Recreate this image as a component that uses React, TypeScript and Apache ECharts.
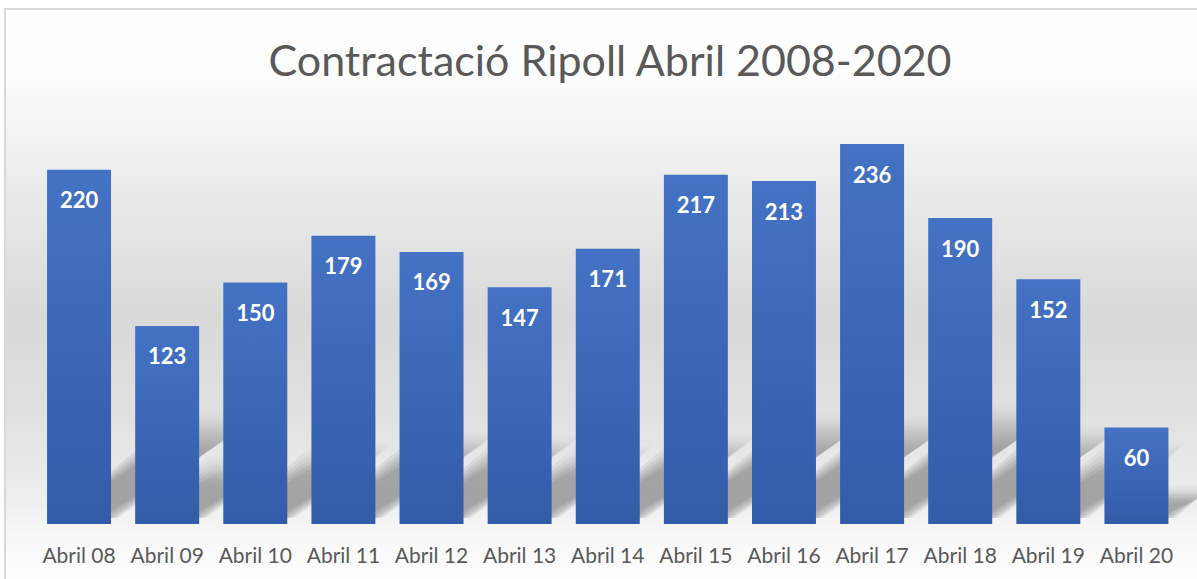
import React, { useEffect, useRef } from "react";
import * as echarts from "echarts";

const titleText = "Contractació Ripoll Abril 2008-2020";
const categories = [
  "Abril 08", "Abril 09", "Abril 10", "Abril 11", "Abril 12", "Abril 13", "Abril 14",
  "Abril 15", "Abril 16", "Abril 17", "Abril 18", "Abril 19", "Abril 20",
];
const values = [220, 123, 150, 179, 169, 147, 171, 217, 213, 236, 190, 152, 60];
const axisMax = 250;

const FONT = "Lato";
const BAR_RATIO = 0.726;

export default function App() {
  const ref = useRef<HTMLDivElement>(null);

  useEffect(() => {
    if (!ref.current) return;
    const chart = echarts.init(ref.current, undefined, { renderer: "svg" });

    const shadowData = values.map((v, i) => [i, v]);

    const option: any = {
      animation: false,
      graphic: [
        {
          type: "rect",
          z: -10,
          silent: true,
          shape: { x: 5, y: 9, width: 1210, height: 590 },
          style: {
            stroke: "#d9d9d9",
            lineWidth: 2,
            fill: new echarts.graphic.LinearGradient(0, 0, 0, 1, [
              { offset: 0, color: "#ffffff" },
              { offset: 0.12, color: "#fcfcfc" },
              { offset: 0.3, color: "#ebebeb" },
              { offset: 0.52, color: "#d9d9d9" },
              { offset: 0.68, color: "#e0e0e0" },
              { offset: 0.84, color: "#efefef" },
              { offset: 0.9, color: "#f9f9f9" },
              { offset: 1, color: "#ffffff" },
            ]),
          },
        },
      ],
      title: {
        text: titleText,
        left: 605,
        top: 33,
        textAlign: "center",
        textStyle: {
          fontFamily: FONT,
          fontSize: 43,
          fontWeight: "normal",
          color: "#595959",
        },
      },
      grid: { left: 35, right: 16.5, top: 121.5, bottom: 55, containLabel: false },
      xAxis: {
        type: "category",
        data: categories,
        axisLine: { show: false },
        axisTick: { show: false },
        axisLabel: {
          fontFamily: FONT,
          fontSize: 21,
          color: "#595959",
          margin: 19,
          lineHeight: 22,
          interval: 0,
        },
      },
      yAxis: {
        type: "value",
        min: 0,
        max: axisMax,
        show: false,
        splitLine: { show: false },
      },
      series: [
        {
          type: "custom",
          z: 1,
          silent: true,
          data: shadowData,
          renderItem: (params: any, api: any) => {
            const i = api.value(0);
            const v = api.value(1);
            const base = api.coord([i, 0]);
            const top = api.coord([i, v]);
            const bw = api.size([1, 0])[0] * BAR_RATIO;
            const hPx = base[1] - top[1];
            const h = hPx * 0.28;
            const dx = h * 1.45;
            const l = base[0] - bw / 2;
            const r = base[0] + bw / 2;
            const y0 = base[1] - 6;
            const children: any[] = [];
            const layers = 5;
            for (let k = 0; k < layers; k++) {
              const inset = (k - 2) * 3.5;
              children.push({
                type: "polygon",
                shape: {
                  points: [
                    [l + 6, y0],
                    [r - inset, y0 - Math.max(inset, 0) * 0.3],
                    [r - inset + dx, y0 - h + inset],
                    [l + inset + dx, y0 - h + inset],
                  ],
                },
                style: {
                  fill: new echarts.graphic.LinearGradient(0, 1, 0, 0, [
                    { offset: 0, color: "rgba(0,0,0,0.075)" },
                    { offset: 0.65, color: "rgba(0,0,0,0.07)" },
                    { offset: 1, color: "rgba(0,0,0,0.01)" },
                  ]),
                },
              });
            }
            return { type: "group", children };
          },
        },
        {
          type: "bar",
          z: 2,
          data: values,
          barWidth: (BAR_RATIO * 100).toFixed(1) + "%",
          itemStyle: {
            color: new echarts.graphic.LinearGradient(0, 0, 0, 1, [
              { offset: 0, color: "#4472C4" },
              { offset: 1, color: "#335CA8" },
            ]),
          },
          label: {
            show: true,
            position: "insideTop",
            distance: 18,
            fontFamily: FONT,
            fontSize: 22,
            fontWeight: "bold",
            color: "#ffffff",
            lineHeight: 24,
          },
        },
      ],
    };

    chart.setOption(option);
    return () => chart.dispose();
  }, []);

  return (
    <div
      ref={ref}
      style={{ position: "absolute", left: 0, top: 0, width: 1197, height: 579 }}
    />
  );
}
